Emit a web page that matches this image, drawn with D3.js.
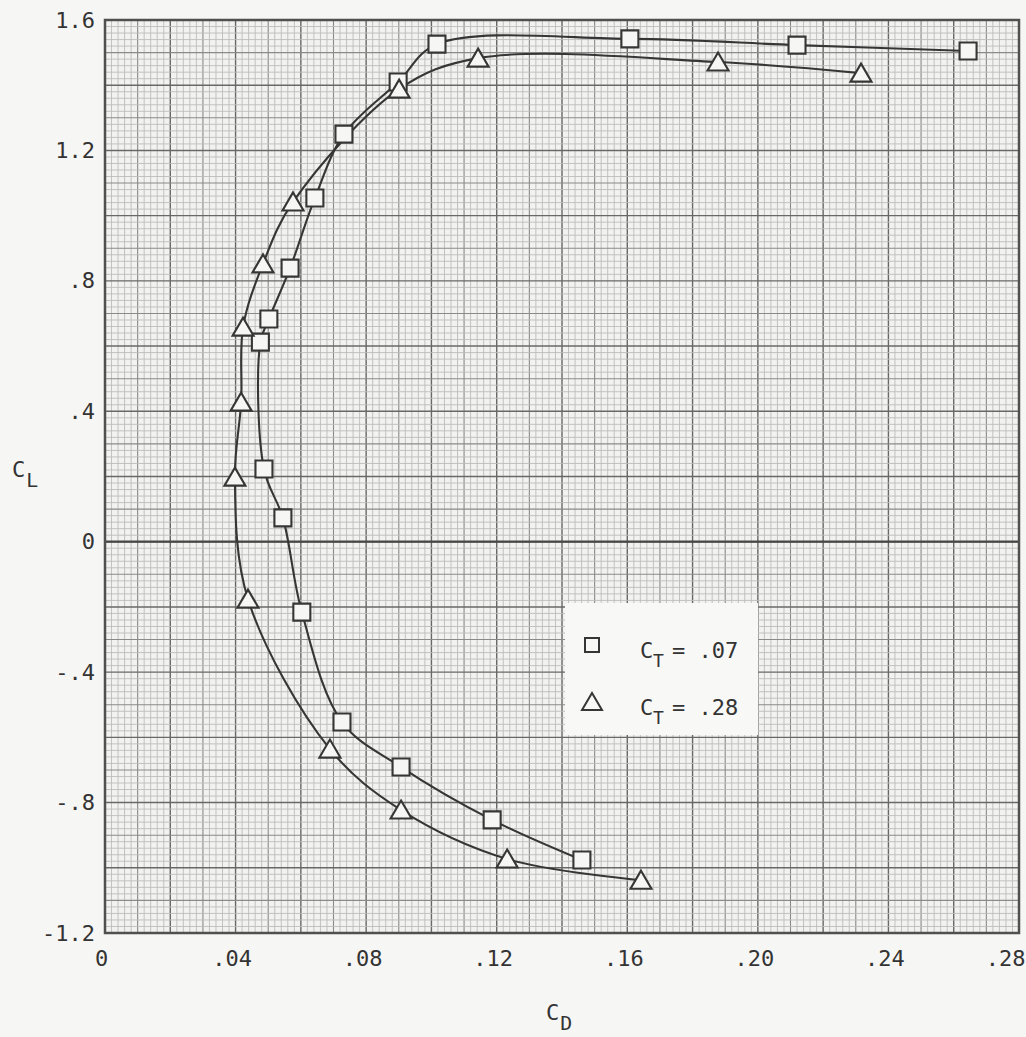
<!DOCTYPE html>
<html>
<head>
<meta charset="utf-8">
<script src="https://cdn.jsdelivr.net/npm/d3@7"></script>
<style>
  html, body { margin: 0; padding: 0; background: #f6f6f4; }
  svg { display: block; }
  text { font-family: "DejaVu Sans Mono", "Liberation Mono", monospace; fill: #333; }
</style>
</head>
<body>
<svg id="chart" width="1026" height="1037"></svg>
<script>
// Lift coefficient C_L versus drag coefficient C_D, two thrust coefficients.
// Points listed in order along each faired curve (bottom branch -> top branch).
const cdLow  = [0.1461, 0.1186, 0.0907, 0.0726, 0.0603, 0.0545, 0.0487, 0.0476, 0.0502, 0.0567, 0.0643, 0.0732, 0.0898, 0.1017, 0.1608, 0.2120, 0.2644];
const clLow  = [-0.976, -0.853, -0.691, -0.553, -0.216, 0.073, 0.223, 0.612, 0.683, 0.839, 1.054, 1.250, 1.410, 1.526, 1.542, 1.523, 1.505];
const cdHigh = [0.1642, 0.1232, 0.0907, 0.0689, 0.0438, 0.0398, 0.0417, 0.0423, 0.0484, 0.0576, 0.0901, 0.1143, 0.1878, 0.2316];
const clHigh = [-1.038, -0.973, -0.823, -0.636, -0.176, 0.198, 0.428, 0.658, 0.852, 1.042, 1.388, 1.483, 1.471, 1.437];

const seriesNames = ["C_T = .07", "C_T = .28"];
const xTickValues = [0, 0.04, 0.08, 0.12, 0.16, 0.20, 0.24, 0.28];
const xTickLabels = ["0", ".04", ".08", ".12", ".16", ".20", ".24", ".28"];
const yTickValues = [1.6, 1.2, 0.8, 0.4, 0, -0.4, -0.8, -1.2];
const yTickLabels = ["1.6", "1.2", ".8", ".4", "0", "-.4", "-.8", "-1.2"];

const svg = d3.select("#chart");
const x = d3.scaleLinear().domain([0, 0.28]).range([105, 1019]);
const y = d3.scaleLinear().domain([-1.2, 1.6]).range([933, 20]);

const ink = "#363636";
const paper = "#f6f6f4";
const mono = '"DejaVu Sans Mono", monospace';

// plot area background
svg.append("rect")
  .attr("x", x(0)).attr("y", y(1.6))
  .attr("width", x(0.28) - x(0)).attr("height", y(-1.2) - y(1.6))
  .attr("fill", "#f2f2f0");

// graph-paper grid: fine every 0.002 / 0.02, medium every 5th, heavy every 10th
const grid = svg.append("g");
const gridStyle = i => i % 10 === 0 ? ["#686868", 1.4] : i % 5 === 0 ? ["#8a8a8a", 1.1] : ["#bcbcbc", 0.9];
d3.range(0, 141).forEach(i => {
  const v = i * 0.002;
  const [c, w] = gridStyle(i);
  grid.append("line")
    .attr("x1", x(v)).attr("x2", x(v)).attr("y1", y(1.6)).attr("y2", y(-1.2))
    .attr("stroke", c).attr("stroke-width", w);
});
d3.range(0, 141).forEach(i => {
  const v = -1.2 + i * 0.02;
  const [c, w] = gridStyle(i);
  grid.append("line")
    .attr("y1", y(v)).attr("y2", y(v)).attr("x1", x(0)).attr("x2", x(0.28))
    .attr("stroke", c).attr("stroke-width", w);
});
// zero-lift line
grid.append("line")
  .attr("x1", x(0)).attr("x2", x(0.28)).attr("y1", y(0)).attr("y2", y(0))
  .attr("stroke", "#474747").attr("stroke-width", 2.2);

// frame
svg.append("rect")
  .attr("x", x(0)).attr("y", y(1.6))
  .attr("width", x(0.28) - x(0)).attr("height", y(-1.2) - y(1.6))
  .attr("fill", "none").attr("stroke", "#505050").attr("stroke-width", 2.5);

// axes
const xAxis = d3.axisBottom(x).tickValues(xTickValues)
  .tickFormat((d, i) => xTickLabels[i]).tickSize(0).tickPadding(17);
const gx = svg.append("g").attr("transform", `translate(-4,${y(-1.2)})`).call(xAxis);
gx.select(".domain").remove();
gx.selectAll("text").style("font-size", "22px").attr("fill", ink).style("font-family", mono);
// last label sits against the page edge
gx.selectAll(".tick").filter(d => d === 0.28).select("text")
  .attr("text-anchor", "end").attr("dx", "10");

const yAxis = d3.axisLeft(y).tickValues(yTickValues)
  .tickFormat((d, i) => yTickLabels[i]).tickSize(0).tickPadding(10);
const gy = svg.append("g").attr("transform", `translate(${x(0)},0)`).call(yAxis);
gy.select(".domain").remove();
gy.selectAll("text").style("font-size", "22px").attr("fill", ink).style("font-family", mono);

// axis titles with subscripts
function subLabel(g, px, py, main, sub, size) {
  g.append("text").attr("x", px).attr("y", py).style("font-size", size + "px").text(main);
  g.append("text").attr("x", px + size * 0.6 + 1).attr("y", py + size * 0.45)
    .style("font-size", (size * 0.9) + "px").text(sub);
}
subLabel(svg, 12, 477, "C", "L", 22);
subLabel(svg, 546, 1020, "C", "D", 22);

// faired curves
const line = d3.line().x(d => x(d[0])).y(d => y(d[1])).curve(d3.curveCatmullRom.alpha(0.5));
const lowPts = cdLow.map((v, i) => [v, clLow[i]]);
const highPts = cdHigh.map((v, i) => [v, clHigh[i]]);
[lowPts, highPts].forEach(pts => {
  svg.append("path").attr("d", line(pts))
    .attr("fill", "none").attr("stroke", ink).attr("stroke-width", 2.1);
});

// markers
const squarePath = "M-8.5,-8.5H8.5V8.5H-8.5Z";
const trianglePath = "M0,-9.5L10.5,8.5H-10.5Z";
svg.append("g").selectAll("path").data(lowPts).join("path")
  .attr("transform", d => `translate(${x(d[0])},${y(d[1])})`)
  .attr("d", squarePath).attr("fill", paper).attr("stroke", ink).attr("stroke-width", 2.1);
svg.append("g").selectAll("path").data(highPts).join("path")
  .attr("transform", d => `translate(${x(d[0])},${y(d[1])})`)
  .attr("d", trianglePath).attr("fill", paper).attr("stroke", ink).attr("stroke-width", 2.1);

// legend
const lg = svg.append("g").attr("transform", "translate(565,603)");
lg.append("rect").attr("width", 193).attr("height", 132).attr("fill", "#f8f8f6");
lg.append("path").attr("transform", "translate(27,42)").attr("d", "M-7,-7H7V7H-7Z")
  .attr("fill", "none").attr("stroke", ink).attr("stroke-width", 2);
lg.append("path").attr("transform", "translate(27,99)").attr("d", "M0,-9L10,8H-10Z")
  .attr("fill", "none").attr("stroke", ink).attr("stroke-width", 2);
[[seriesNames[0], 55], [seriesNames[1], 112]].forEach(([name, yy]) => {
  const [lhs, rhs] = name.split(" = ");
  const parts = lhs.split("_");
  lg.append("text").attr("x", 75).attr("y", yy).style("font-size", "22px").text(parts[0]);
  lg.append("text").attr("x", 88).attr("y", yy + 9).style("font-size", "18px").text(parts[1]);
  lg.append("text").attr("x", 107).attr("y", yy).style("font-size", "22px").text("= " + rhs);
});
</script>
</body>
</html>
